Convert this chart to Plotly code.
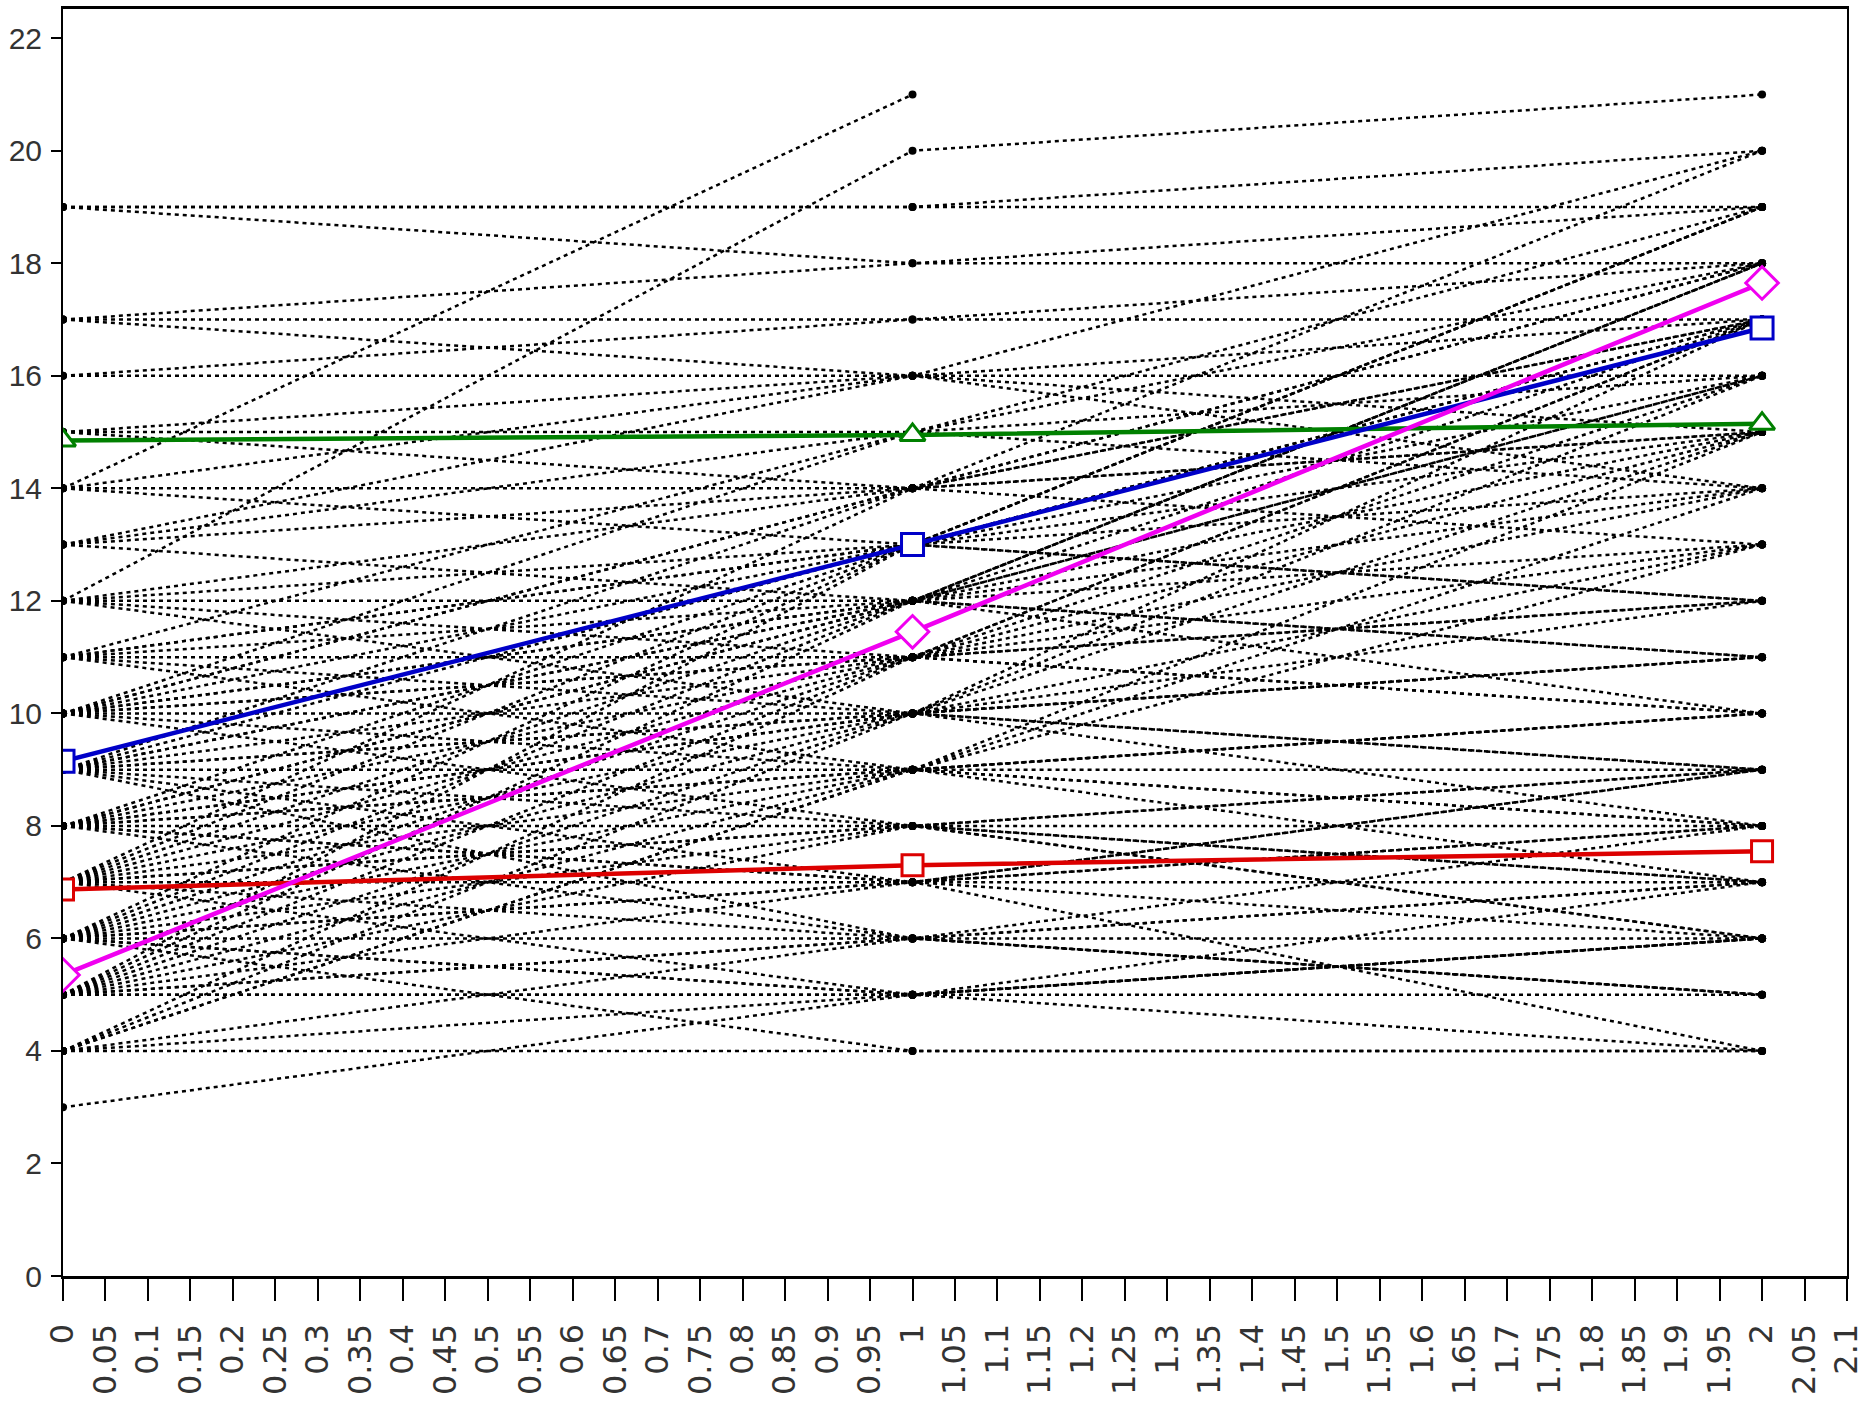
import plotly.graph_objects as go

# ---------------- data ----------------
times = [0, 1, 2]

# individual subject profiles (value at time 0, 1, 2); None = missing
subj_t0 = [19, 19, 19, 17, 17, 17, 16, 16, 15, 15, 15, 14, 14, 14, 13, 13, 13, 12, 12, 12, 11, 11, 10, 14,
           9, 8, 10, 9, 10, 8, 9, 11, 7, 9, 10, 8, 10, 8, 11, 9, 12, 7, 10, 8, 13,
           4, 5, 6, 5, 6, 4, 7, 5, 6, 5, 4, 7, 4, 6, 5, 7,
           3, 4, 4, 5, 5, 6, 6, 7, 7, 8, 8, 9, 9, 10, 11, 5, 6, 7, 8, 6, 5, 7, 8, 9, 4, 10, 6, 12, 5, 7,
           9, 10, 11, 8, 6,
           7, 8, 6, 9, 10, 11, 12, 5, 8, 9, 6, 10]
subj_t1 = [19, 19, 18, 18, 16, 17, 16, 17, 15, 16, 14, 21, 16, 14, 15, 14, 12, 20, 13, 12, 12, 11, 11, 13,
           13, 12, 14, 12, 13, 13, 14, 15, 11, 12, 14, 12, 12, 11, 13, 11, 14, 10, 15, 10, 16,
           10, 11, 12, 10, 13, 9, 14, 12, 11, 13, 11, 12, 9, 10, 9, 13,
           5, 4, 6, 5, 7, 4, 8, 7, 5, 9, 6, 10, 7, 9, 10, 6, 6, 8, 8, 7, 5, 6, 7, 8, 5, 11, 5, 10, 6, 9,
           9, 10, 9, 10, 9,
           8, 9, 7, 10, 12, 13, 11, 8, 7, 6, 5, 8]
subj_t2 = [19, 20, 18, 19, 17, 17, 16, 18, 14, 15, 15, None, 14, 15, 16, 13, 11, 21, 14, 13, 10, 12, 12, 12,
           17, 16, 18, 17, 16, 17, 18, 19, 15, 16, 17, 15, 14, 13, 15, 14, 17, 13, 18, 12, 20,
           16, 17, 18, 17, 19, 15, 20, 18, 16, 19, 17, 18, 14, 15, 13, 19,
           7, 4, 5, 5, 9, 4, 6, 8, 6, 10, 7, 11, 4, 8, 11, 6, 7, 8, 9, 7, 6, 5, 8, 9, 6, 10, 4, 9, 8, 9,
           10, 11, 7, 8, 10,
           7, 8, 6, 9, 11, 12, 10, 6, 9, 5, 6, 7]

# group mean profiles
mean_green = [14.85, 14.95, 15.15]
mean_red = [6.87, 7.30, 7.55]
mean_blue = [9.15, 13.00, 16.85]
mean_magenta = [5.35, 11.45, 17.65]

x_tick_labels = ["0", "0.05", "0.1", "0.15", "0.2", "0.25", "0.3", "0.35", "0.4", "0.45", "0.5",
                 "0.55", "0.6", "0.65", "0.7", "0.75", "0.8", "0.85", "0.9", "0.95", "1",
                 "1.05", "1.1", "1.15", "1.2", "1.25", "1.3", "1.35", "1.4", "1.45", "1.5",
                 "1.55", "1.6", "1.65", "1.7", "1.75", "1.8", "1.85", "1.9", "1.95", "2",
                 "2.05", "2.1"]
y_tick_labels = ["0", "2", "4", "6", "8", "10", "12", "14", "16", "18", "20", "22"]

# ---------------- figure ----------------
fig = go.Figure()

xs, ys = [], []
for a, b, c in zip(subj_t0, subj_t1, subj_t2):
    for t, v in zip(times, (a, b, c)):
        xs.append(t if v is not None else None)
        ys.append(v)
    xs.append(None)
    ys.append(None)

fig.add_trace(go.Scatter(
    x=xs, y=ys, mode="lines+markers", connectgaps=False,
    line=dict(color="black", width=2.5, dash="4px,4px"),
    marker=dict(symbol="circle", size=8, color="black"),
    hoverinfo="skip", showlegend=False,
))

means = [
    (mean_green, "rgb(0,128,0)", "triangle-up", 22),
    (mean_red, "rgb(220,0,0)", "square", 21),
    (mean_blue, "rgb(0,0,200)", "square", 22),
    (mean_magenta, "rgb(240,0,240)", "diamond", 25),
]
for vals, col, sym, sz in means:
    fig.add_trace(go.Scatter(
        x=times, y=vals, mode="lines+markers",
        line=dict(color=col, width=4.5),
        marker=dict(symbol=sym, size=sz, color="white", line=dict(color=col, width=3)),
        showlegend=False,
    ))

fig.update_layout(
    width=1871, height=1417,
    margin=dict(l=63, r=24, t=9, b=141, pad=0),
    plot_bgcolor="white", paper_bgcolor="white",
    showlegend=False,
)
fig.update_xaxes(
    range=[0, 2.1],
    automargin=False,
    tickmode="array",
    tickvals=[float(s) for s in x_tick_labels],
    ticktext=x_tick_labels,
    tickangle=-90,
    ticks="outside", ticklen=22, tickwidth=1.5, tickcolor="black",
    ticklabelstandoff=10,
    ticklabeloverflow="allow",
    tickfont=dict(family="DejaVu Sans", size=32, color="#333"),
    showline=True, linecolor="black", linewidth=3, mirror=True,
    showgrid=False, zeroline=False,
)
fig.update_yaxes(
    range=[0, 22.52],
    automargin=False,
    tickmode="array",
    tickvals=[float(s) for s in y_tick_labels],
    ticktext=y_tick_labels,
    ticks="outside", ticklen=10, tickwidth=1.5, tickcolor="black",
    ticklabelstandoff=3,
    tickfont=dict(family="Liberation Sans Narrow, Liberation Sans, sans-serif", size=30, color="#333"),
    showline=True, linecolor="black", linewidth=2, mirror=True,
    showgrid=False, zeroline=False,
)

fig.write_html("out.html", config={"displayModeBar": False},
               post_script="document.body.style.margin='0px';document.body.style.overflow='hidden';")
